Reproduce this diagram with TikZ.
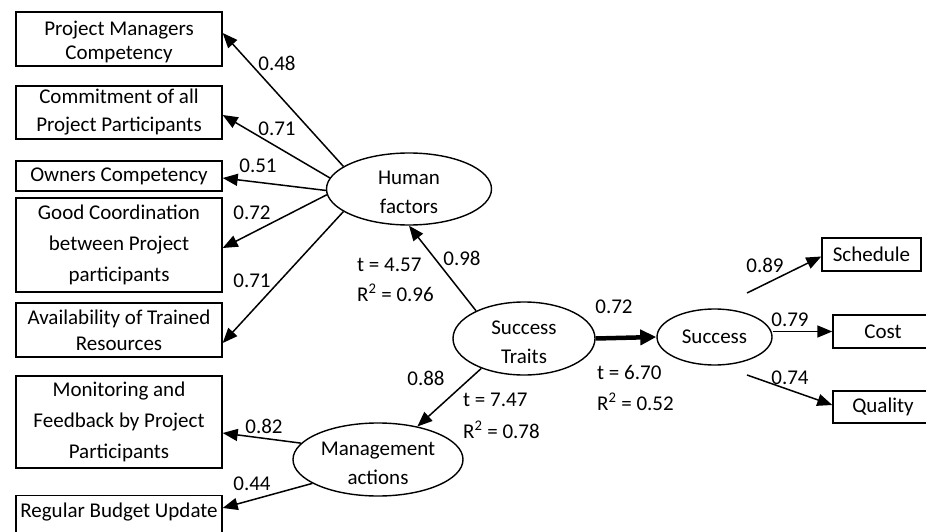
\documentclass[tikz,border=0pt]{standalone}
\usepackage{fontspec}
\setmainfont{Carlito}
\usetikzlibrary{arrows.meta,shapes.geometric}
% invisible strut that lowers a centred text block a little
\newcommand\topgap{\rule{0pt}{21pt}}
\begin{document}
\begin{tikzpicture}[x=1pt,y=-1pt,
  every node/.style={font=\fontsize{21}{26}\selectfont},
  box/.style={draw,line width=1.4pt,inner sep=0pt,align=center,minimum width=206pt},
  tallbox/.style={box,font=\fontsize{21}{31}\selectfont},
  latent/.style={draw,ellipse,line width=1.4pt,inner sep=0pt,align=center,font=\fontsize{21}{29}\selectfont},
  path/.style={line width=1.5pt,-{Triangle[length=15pt,width=12pt]}},
  strong/.style={line width=4.5pt,-{Triangle[length=16pt,width=15pt]}},
  coef/.style={inner sep=0pt},
  stat/.style={inner sep=0pt,anchor=west}]
\useasboundingbox (0,0) rectangle (926,532);
\clip (0,0) rectangle (926,532);

% indicator boxes of the two exogenous factors
\node[box,minimum height=54pt,font=\fontsize{21}{24}\selectfont] (b1) at (119,39) {\topgap Project Managers\\Competency};
\node[box,minimum height=53pt,font=\fontsize{21}{28}\selectfont] (b2) at (119,112.5) {Commitment of all\\Project Participants};
\node[box,minimum height=30pt] (b3) at (119,176) {Owners Competency};
\node[tallbox,minimum height=94pt] (b4) at (119,245) {Good Coordination\\between Project\\participants};
\node[box,minimum height=54pt] (b5) at (119,330) {Availability of Trained\\Resources};
\node[tallbox,minimum height=92pt] (b6) at (119,422) {Monitoring and\\Feedback by Project\\Participants};
\node[box,minimum height=50pt,anchor=north] (b7) at (119,495) {};
\node[inner sep=0pt] (b7t) at (119,512) {Regular Budget Update};

% outcome boxes
\node[draw,line width=1.4pt,inner sep=0pt,minimum width=99pt,minimum height=33pt] (sch) at (871.5,254.5) {Schedule};
\node[draw,line width=1.4pt,inner sep=0pt,minimum width=100pt,minimum height=33pt] (cost) at (883,331.5) {Cost};
\node[draw,line width=1.4pt,inner sep=0pt,minimum width=100pt,minimum height=32pt] (qual) at (883,407) {Quality};

% latent constructs
\node[latent,minimum width=165pt,minimum height=72pt] (hf) at (409,189) {\topgap Human\\factors};
\node[latent,minimum width=142pt,minimum height=73pt] (st) at (524,338.5) {\topgap Success\\Traits};
\node[latent,minimum width=115pt,minimum height=56pt] (su) at (714.5,337) {Success};
\node[latent,minimum width=170pt,minimum height=73pt] (ma) at (378,459.5) {\topgap Management\\actions};

% loose starting points of the outcome paths
\coordinate (schfrom) at (747,293);
\coordinate (qualfrom) at (747,375);

% loadings of Human factors
\draw[path] (hf.161) -- ([yshift=6pt]b1.east);
\draw[path] (hf.172) -- ([yshift=-2.5pt]b2.east);
\draw[path] (hf.181) -- ([yshift=-2pt]b3.east);
\draw[path] (hf.184) -- ([yshift=-3pt]b4.east);
\draw[path] (hf.199) -- ([yshift=-13pt]b5.east);

% loadings of Management actions
\draw[path] (ma.168) -- ([yshift=-11pt]b6.east);
\draw[path] (ma.200) -- ([yshift=-13pt]b7.north east);

% structural paths
\draw[path] (st.150) -- (hf.south);
\draw[path] (st.215) -- (ma.40);
\draw[strong] (st.east) -- (su.west);

% loadings of Success
\draw[path] (schfrom) -- ([yshift=-2pt]sch.west);
\draw[path] (su.east |- cost.west) -- (cost.west);
\draw[path] (qualfrom) -- ([yshift=2pt]qual.west);

% coefficients
\node[coef] at (277,63) {0.48};
\node[coef] at (277,129) {0.71};
\node[coef] at (258,166) {0.51};
\node[coef] at (252,213) {0.72};
\node[coef] at (252,281) {0.71};
\node[coef] at (462,258) {0.98};
\node[coef] at (426,378) {0.88};
\node[coef] at (264,426) {0.82};
\node[coef] at (252,484) {0.44};
\node[coef] at (614,307) {0.72};
\node[coef] at (765,265) {0.89};
\node[coef] at (790,320) {0.79};
\node[coef] at (790,378) {0.74};

% t values and explained variance
\node[stat] at (357,265) {t = 4.57};
\node[stat] at (357,293) {R\textsuperscript{2} = 0.96};
\node[stat] at (463,400) {t = 7.47};
\node[stat] at (463,430) {R\textsuperscript{2} = 0.78};
\node[stat] at (597,372) {t = 6.70};
\node[stat] at (597,402) {R\textsuperscript{2} = 0.52};
\end{tikzpicture}
\end{document}
